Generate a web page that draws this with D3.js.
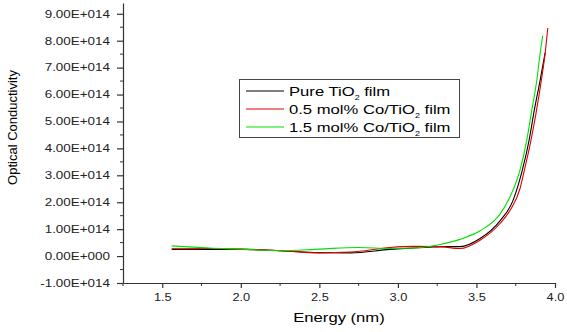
<!DOCTYPE html>
<html><head><meta charset="utf-8">
<script src="https://cdn.jsdelivr.net/npm/d3@7"></script>
<style>body{margin:0;background:#fff}svg{display:block}text{font-family:"Liberation Sans",Arial,sans-serif}</style>
</head><body>
<svg id="c" width="567" height="332"></svg>
<script>
const seriesNames = ["Pure TiO2 film", "0.5 mol% Co/TiO2 film", "1.5 mol% Co/TiO2 film"];
const seriesColors = ["#000000", "#e00000", "#00e000"];
const pureX = [1.56, 1.8, 2.0, 2.25, 2.5, 2.7, 2.95, 3.2, 3.3, 3.395, 3.523, 3.65, 3.733, 3.792, 3.835, 3.868, 3.905, 3.937];
const pureY = [2.5e13, 2.5e13, 2.5e13, 2.0e13, 1.3e13, 1.2e13, 2.5e13, 3.3e13, 3.5e13, 3.5e13, 6.5e13, 1.31e14, 2.07e14, 3.19e14, 4.3e14, 5.41e14, 6.52e14, 7.55e14];
const redX = [1.56, 1.8, 2.0, 2.25, 2.5, 2.7, 2.95, 3.1, 3.268, 3.395, 3.523, 3.65, 3.714, 3.777, 3.805, 3.847, 3.879, 3.915, 3.937, 3.954];
const redY = [2.7e13, 2.8e13, 2.6e13, 2.0e13, 1.2e13, 1.5e13, 3.2e13, 3.6e13, 3.5e13, 2.8e13, 5.9e13, 1.21e14, 1.7e14, 2.5e14, 3.19e14, 4.3e14, 5.3e14, 6.6e14, 7.52e14, 8.47e14];
const greenX = [1.56, 1.8, 2.0, 2.25, 2.5, 2.75, 2.95, 3.15, 3.27, 3.395, 3.523, 3.65, 3.714, 3.777, 3.82, 3.852, 3.884, 3.905, 3.922];
const greenY = [3.8e13, 3.0e13, 2.6e13, 2.0e13, 2.6e13, 3.2e13, 2.8e13, 3.2e13, 4.3e13, 6.2e13, 9.4e13, 1.56e14, 2.2e14, 3.19e14, 4.3e14, 5.41e14, 6.52e14, 7.52e14, 8.19e14];
const xTicks = [1.5, 2.0, 2.5, 3.0, 3.5, 4.0];
const yTicks = [-1e14, 0, 1e14, 2e14, 3e14, 4e14, 5e14, 6e14, 7e14, 8e14, 9e14];
const xLabel = "Energy (nm)";
const yLabel = "Optical Conductivity";

const SX = 1.28; // horizontal text stretch seen in the reference
const svg = d3.select("#c");
const x = d3.scaleLinear().domain([1.25, 4.0]).range([123, 555]);
const y = d3.scaleLinear().domain([-1e14, 9.4e14]).range([283, 3]);

function fmtE(v){
  if (v === 0) return "0.00E+000";
  const e = Math.floor(Math.log10(Math.abs(v)) + 1e-9);
  const m = v / Math.pow(10, e);
  return m.toFixed(2) + "E" + (e >= 0 ? "+" : "-") + String(Math.abs(e)).padStart(3, "0");
}

const xMinor = d3.range(1.25, 4.0001, 0.25).filter(v => !xTicks.some(t => Math.abs(t - v) < 1e-6));
const yMinor = d3.range(-0.5e14, 9.4e14, 1e14);

const gx = svg.append("g").attr("transform", "translate(0,283)");
gx.call(d3.axisBottom(x).tickValues(xTicks).tickFormat(d3.format(".1f")).tickSize(5).tickSizeOuter(0));
gx.selectAll(".tick text").attr("font-size", 10).attr("fill", "#222")
  .attr("y", 0).attr("dy", 0).attr("transform", `translate(0,18) scale(${SX},1)`);
gx.selectAll("line,path").attr("stroke", "#333").attr("stroke-width", 1.2);
gx.selectAll(".minor").data(xMinor).enter().append("line").attr("class","minor")
  .attr("x1", d => x(d)).attr("x2", d => x(d)).attr("y1", 0).attr("y2", 3).attr("stroke", "#333");

const gy = svg.append("g").attr("transform", "translate(123,0)");
gy.call(d3.axisLeft(y).tickValues(yTicks).tickFormat(fmtE).tickSize(6).tickSizeOuter(0));
gy.selectAll(".tick text").attr("font-size", 10.5).attr("fill", "#222")
  .attr("x", 0).attr("transform", `translate(-13,0) scale(${SX},1)`);
gy.selectAll("line,path").attr("stroke", "#333").attr("stroke-width", 1.2);
gy.selectAll(".minor").data(yMinor).enter().append("line").attr("class","minor")
  .attr("x1", 0).attr("x2", -3).attr("y1", d => y(d)).attr("y2", d => y(d)).attr("stroke", "#333");

svg.append("text").attr("transform", `translate(339,322) scale(${SX},1)`).attr("text-anchor", "middle").attr("font-size", 13).text(xLabel);
svg.append("text").attr("transform", "translate(16.5,127.5) rotate(-90)").attr("text-anchor", "middle").attr("font-size", 13).text(yLabel);

const line = d3.line().x(d => x(d[0])).y(d => y(d[1])).curve(d3.curveMonotoneX);
const data = [d3.zip(pureX, pureY), d3.zip(redX, redY), d3.zip(greenX, greenY)];
data.forEach((d, i) => {
  svg.append("path").datum(d).attr("d", line).attr("fill", "none").attr("stroke", seriesColors[i]).attr("stroke-width", 1.1);
});

// legend
const lg = svg.append("g");
lg.append("rect").attr("x", 239.5).attr("y", 79.5).attr("width", 220).attr("height", 58).attr("fill", "#fff").attr("stroke", "#444");
seriesNames.forEach((n, i) => {
  const yy = 91 + i * 18;
  lg.append("line").attr("x1", 246).attr("x2", 284).attr("y1", yy).attr("y2", yy).attr("stroke", seriesColors[i]).attr("stroke-width", 1);
  const t = lg.append("text").attr("transform", `translate(289,${yy + 5}) scale(${SX},1)`).attr("font-size", 13);
  const idx = n.indexOf("TiO2");
  t.append("tspan").text(n.slice(0, idx + 3));
  t.append("tspan").attr("font-size", 7).attr("dy", 4).text("2");
  t.append("tspan").attr("dy", -4).text(n.slice(idx + 4));
});
</script>
</body></html>
